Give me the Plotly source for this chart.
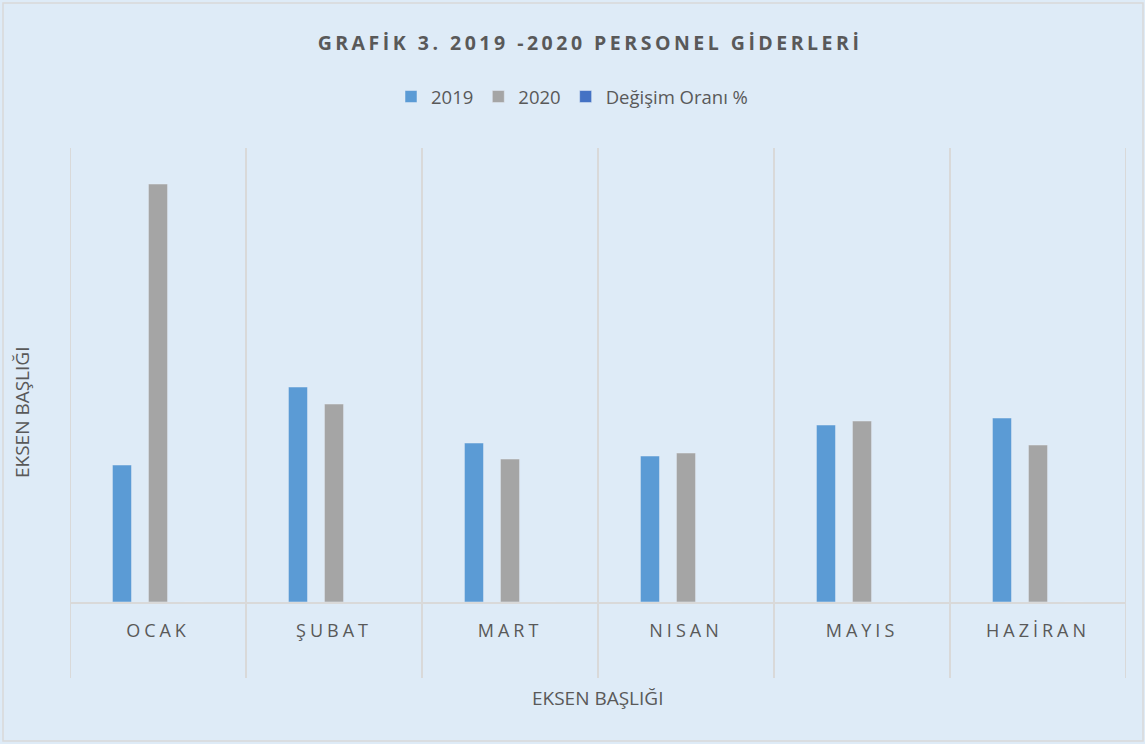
import plotly.graph_objects as go

categories = ["OCAK", "ŞUBAT", "MART", "NISAN", "MAYIS", "HAZİRAN"]
values_2019 = [137, 215, 159, 146, 177, 184]
values_2020 = [418, 198, 143, 149, 181, 157]
values_change = [0, 0, 0, 0, 0, 0]

TEXT = "#595959"
GRID = "#D9D9D9"
BG = "#DEEBF7"
FONT = "Open Sans"

W, H = 1145, 744
L, R, T, B = 70, 19, 148, 142
pw, ph = W - L - R, H - T - B

def px_x(x):
    return (x - L) / pw

def px_y(y):
    return (H - B - y) / ph

fig = go.Figure()
fig.add_trace(go.Bar(name="2019", x=categories, y=values_2019, marker_color="#5B9BD5"))
fig.add_trace(go.Bar(name="2020", x=categories, y=values_2020, marker_color="#A5A5A5"))
fig.add_trace(go.Bar(name="Değişim Oranı %", x=categories, y=values_change, marker_color="#4472C4"))

shapes = []
for i in range(len(categories) + 1):
    shapes.append(dict(type="line", xref="x", yref="paper", x0=i - 0.5, x1=i - 0.5,
                       y0=px_y(678), y1=1, line=dict(color=GRID, width=2), layer="below"))
# chart frame
shapes.append(dict(type="rect", xref="paper", yref="paper", x0=px_x(3), x1=px_x(1143),
                   y0=px_y(741), y1=px_y(3), line=dict(color=GRID, width=1.5), layer="below"))

fig.update_layout(
    width=W, height=H,
    margin=dict(l=L, r=R, t=T, b=B),
    paper_bgcolor=BG, plot_bgcolor=BG,
    font=dict(family=FONT, color=TEXT, size=18),
    barmode="group", bargap=0.386, bargroupgap=0.47,
    title=dict(text="<b>GRAFİK 3. 2019 -2020 PERSONEL GİDERLERİ</b>", x=590 / W, xanchor="center",
               y=1 - 43 / H, yanchor="middle", font=dict(size=19.5, color=TEXT, family=FONT)),
    legend=dict(orientation="h", xref="container", x=572 / W, xanchor="center",
                yref="container", y=1 - 97 / H, yanchor="middle",
                font=dict(size=18.5, color=TEXT), bgcolor="rgba(0,0,0,0)"),
    xaxis=dict(showgrid=False, showline=True, linecolor=GRID, linewidth=2,
               ticks="outside", ticklen=11, tickcolor="rgba(0,0,0,0)",
               tickfont=dict(size=18, color=TEXT), range=[-0.5, len(categories) - 0.5]),
    yaxis=dict(range=[0, 454], showgrid=False, showticklabels=False, zeroline=False, showline=False),
    shapes=shapes,
    annotations=[
        dict(text="EKSEN BAŞLIĞI", xref="paper", yref="paper", x=px_x(22), y=px_y(413),
             textangle=-90, showarrow=False, xanchor="center", yanchor="middle",
             font=dict(size=19, color=TEXT)),
        dict(text="EKSEN BAŞLIĞI", xref="paper", yref="paper", x=px_x(597), y=px_y(698),
             showarrow=False, xanchor="center", yanchor="middle",
             font=dict(size=19, color=TEXT)),
    ],
    showlegend=True,
)

post = ("document.body.style.margin='0';document.body.style.overflow='hidden';"
        "var s=document.createElement('style');"
        "s.innerHTML='.gtitle{letter-spacing:3.5px}.xtick text{letter-spacing:4px}';"
        "document.head.appendChild(s);")
fig.write_html("out.html", post_script=post, config={"displayModeBar": False})
